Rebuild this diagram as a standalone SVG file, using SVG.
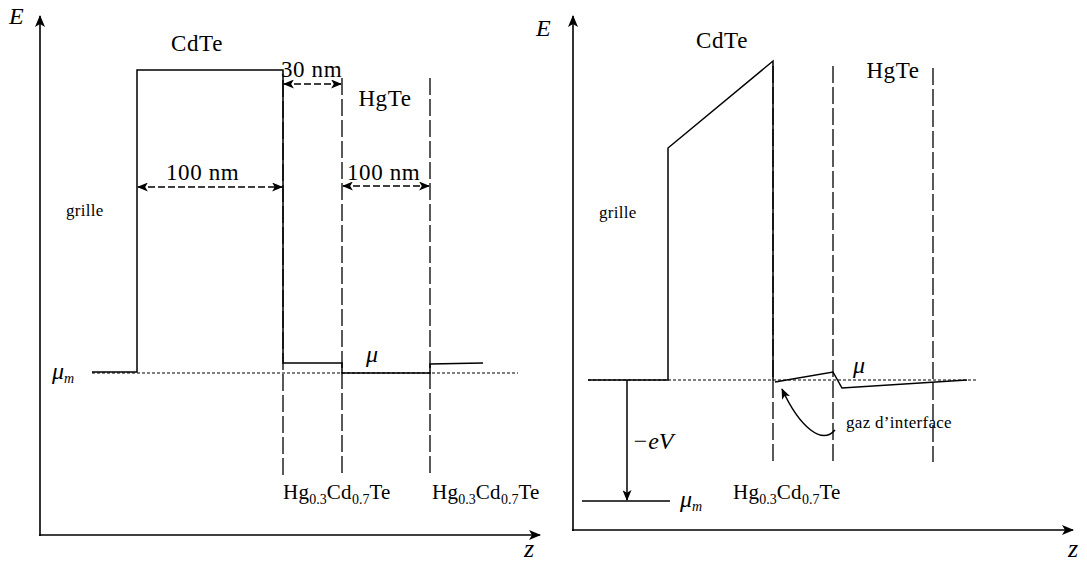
<svg xmlns="http://www.w3.org/2000/svg" width="1087" height="564" viewBox="0 0 1087 564">
<defs>
<marker id="ah" viewBox="0 0 12 10" refX="11" refY="5" markerWidth="12" markerHeight="10" markerUnits="userSpaceOnUse" orient="auto-start-reverse">
<path d="M0,0 L12,5 L0,10 L3,5 Z" fill="#000"/>
</marker>
<marker id="ahs" viewBox="0 0 12 10" refX="11" refY="5" markerWidth="11" markerHeight="9" markerUnits="userSpaceOnUse" orient="auto-start-reverse">
<path d="M0,0 L12,5 L0,10 L3,5 Z" fill="#000"/>
</marker>
</defs>
<style>
.ln{stroke:#000;stroke-width:1.5;fill:none}
.ax{stroke:#000;stroke-width:1.6;fill:none}
.dash{stroke:#000;stroke-width:1.3;fill:none;stroke-dasharray:17 4}
.dot{stroke:#000;stroke-width:1.2;fill:none;stroke-dasharray:3 2}
.dim{stroke:#000;stroke-width:1.3;fill:none;stroke-dasharray:7 3}
text{font-family:"Liberation Serif","DejaVu Serif",serif;fill:#000}
.t{font-size:23px;letter-spacing:0.6px}
.h{font-size:21px;letter-spacing:0.3px}
.s{font-size:17px;letter-spacing:0.3px}
.it{font-style:italic;font-size:24px}
.sub{font-size:14px;letter-spacing:0}
.z{font-style:italic;font-size:26px}
</style>
<rect width="1087" height="564" fill="#fff"/>

<g id="left-panel">
<g id="left-axes">
<line class="ax" x1="40" y1="536" x2="40" y2="16" marker-end="url(#ah)"/>
<line class="ax" x1="39" y1="535" x2="540" y2="535" marker-end="url(#ah)"/>
<text class="it" x="9" y="24">E</text>
<text class="z" x="524" y="557">z</text>
</g>
<g id="left-dashed">
<line class="dash" x1="283" y1="80" x2="283" y2="476"/>
<line class="dash" x1="342" y1="78" x2="342" y2="476"/>
<line class="dash" x1="430" y1="78" x2="430" y2="476"/>
<line class="dot" x1="92" y1="373" x2="518" y2="373"/>
</g>
<g id="left-band">
<polyline class="ln" points="92,372 137,372 137,70 283,70 283,363 342,363 342,373 430,373 430,364 483,363"/>
</g>
<g id="left-dims">
<line class="dim" x1="284" y1="84" x2="341" y2="84" marker-start="url(#ahs)" marker-end="url(#ahs)"/>
<line class="dim" x1="138" y1="187" x2="282" y2="187" marker-start="url(#ahs)" marker-end="url(#ahs)"/>
<line class="dim" x1="343" y1="186" x2="429" y2="186" marker-start="url(#ahs)" marker-end="url(#ahs)"/>
<text class="t" x="281" y="77">30 nm</text>
<text class="t" x="166" y="180">100 nm</text>
<text class="t" x="347" y="180">100 nm</text>
</g>
<g id="left-labels">
<text class="t" x="197" y="51" text-anchor="middle">CdTe</text>
<text class="t" x="385" y="106" text-anchor="middle">HgTe</text>
<text class="s" x="66" y="216">grille</text>
<text class="it" x="52" y="379">μ<tspan class="sub" font-size="16" dy="4">m</tspan></text>
<text class="it" x="366" y="362">μ</text>
<text class="h" x="283" y="499">Hg<tspan class="sub" dy="5">0.3</tspan><tspan dy="-5">Cd</tspan><tspan class="sub" dy="5">0.7</tspan><tspan dy="-5">Te</tspan></text>
<text class="h" x="432" y="499">Hg<tspan class="sub" dy="5">0.3</tspan><tspan dy="-5">Cd</tspan><tspan class="sub" dy="5">0.7</tspan><tspan dy="-5">Te</tspan></text>
</g>
</g>

<g id="right-panel">
<g id="right-axes">
<line class="ax" x1="573" y1="531" x2="573" y2="16" marker-end="url(#ah)"/>
<line class="ax" x1="572" y1="530" x2="1073" y2="530" marker-end="url(#ah)"/>
<text class="it" x="536" y="36">E</text>
<text class="z" x="1068" y="557">z</text>
</g>
<g id="right-dashed">
<line class="dash" x1="773" y1="66" x2="773" y2="462"/>
<line class="dash" x1="833" y1="66" x2="833" y2="462"/>
<line class="dash" x1="933" y1="68" x2="933" y2="462"/>
<line class="dot" x1="588" y1="380" x2="978" y2="380"/>
</g>
<g id="right-band">
<polyline class="ln" points="588,380 668,380 668,148 773,61 773,381"/>
<polyline class="ln" points="775,382 833,372 842,388 967,380"/>
</g>
<g id="right-potential">
<line class="ln" x1="627" y1="380" x2="627" y2="500" marker-end="url(#ahs)"/>
<line class="ln" x1="582" y1="501" x2="670" y2="501"/>
<text class="it" x="632" y="449">−<tspan>eV</tspan></text>
<text class="it" x="680" y="507">μ<tspan class="sub" font-size="16" dy="4">m</tspan></text>
</g>
<g id="right-labels">
<text class="t" x="722" y="48" text-anchor="middle">CdTe</text>
<text class="t" x="893" y="78" text-anchor="middle">HgTe</text>
<text class="s" x="599" y="218">grille</text>
<text class="it" x="853" y="373">μ</text>
<text class="s" x="846" y="428">gaz d’interface</text>
<text class="h" x="733" y="499">Hg<tspan class="sub" dy="5">0.3</tspan><tspan dy="-5">Cd</tspan><tspan class="sub" dy="5">0.7</tspan><tspan dy="-5">Te</tspan></text>
</g>
<g id="connectors">
<path class="ln" d="M835,430 C822,445 800,428 782,389" marker-end="url(#ahs)"/>
</g>
</g>
</svg>
